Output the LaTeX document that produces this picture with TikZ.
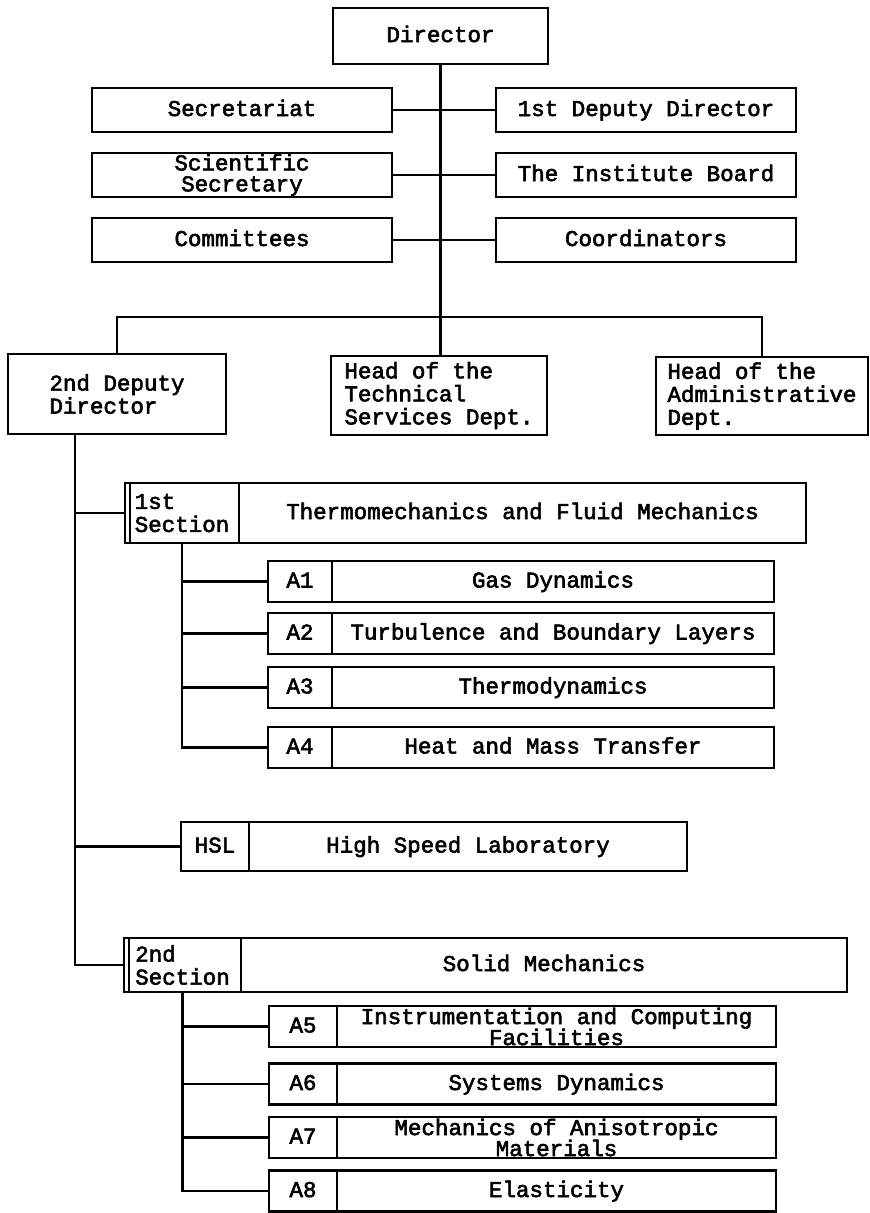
\documentclass[tikz,border=0pt]{standalone}
\usepackage{fontspec}
\newfontfamily\chartface{Liberation Mono}[FakeBold=2.5]
\usepackage{tikz}
\usetikzlibrary{positioning, calc}
\newcommand{\chartfont}{\chartface\fontsize{22.5}{23}\selectfont}
\newcommand{\tightfont}{\chartface\fontsize{22.5}{21}\selectfont}
\tikzset{
  box/.style={rectangle, draw=black, fill=white, line width=2.4pt,
    inner sep=0pt, outer sep=0pt, align=center, font=\chartfont,
    text height=14pt, text depth=2pt},
  multi/.style={text height=, text depth=},
  sidebox/.style={box, minimum width=300pt, minimum height=44pt},
  headbox/.style={box, multi, align=left, minimum height=80pt},
  codebox/.style={box, minimum height=41pt},
  unitbox/.style={box, minimum height=41pt, anchor=west},
  line/.style={line width=2.2pt, color=black}
}

\begin{document}
\begin{tikzpicture}[x=1pt, y=-1pt]
  \useasboundingbox (0,0) rectangle (870,1213);

  % Director and staff
  \node[box, minimum width=215pt, minimum height=56pt] (director) at (440.5, 36) {Director};
  \node[sidebox] (secretariat) at (242, 110) {Secretariat};
  \node[sidebox] (deputyA) at (646, 110) {1st Deputy Director};
  \node[sidebox, multi, font=\tightfont] (sciSec) at (242, 175) {Scientific\\Secretary};
  \node[sidebox] (board) at (646, 175) {The Institute Board};
  \node[sidebox] (committees) at (242, 240) {Committees};
  \node[sidebox] (coordinators) at (646, 240) {Coordinators};

  \draw[line] (secretariat.east) -- (deputyA.west);
  \draw[line] (sciSec.east) -- (board.west);
  \draw[line] (committees.east) -- (coordinators.west);

  % Heads
  \node[headbox, minimum width=218pt] (deputyB) at (117, 394) {2nd Deputy\\Director};
  \node[headbox, minimum width=216pt, minimum height=79pt] (techHead) at (439, 395.5) {Head of the\\Technical\\Services Dept.};
  \node[headbox, minimum width=212pt, minimum height=78pt] (adminHead) at (762, 396) {Head of the\\Administrative\\Dept.};

  \coordinate (bus) at (442, 317);
  \draw[line] (director.south) -- (director.south |- techHead.north);
  \draw[line] (deputyB.north) |- (bus) -| (adminHead.north);

  % 1st Section
  \node[box, multi, minimum width=114pt, minimum height=60pt, align=left] (secOneCode) at (182, 513) {1st\\Section};
  \node[box, minimum width=567pt, minimum height=60pt, anchor=west] (secOne) at (secOneCode.east) {Thermomechanics and Fluid Mechanics};
  \draw[line] ([xshift=5pt]secOneCode.north west) -- ([xshift=5pt]secOneCode.south west);

  \node[codebox, minimum width=64pt] (aOneCode) at (300, 581.5) {A1};
  \node[unitbox, minimum width=442pt] (aOne) at (aOneCode.east) {Gas Dynamics};
  \node[codebox, minimum width=64pt] (aTwoCode) at (300, 633.5) {A2};
  \node[unitbox, minimum width=442pt] (aTwo) at (aTwoCode.east) {Turbulence and Boundary Layers};
  \node[codebox, minimum width=64pt] (aThreeCode) at (300, 687.5) {A3};
  \node[unitbox, minimum width=442pt] (aThree) at (aThreeCode.east) {Thermodynamics};
  \node[codebox, minimum width=64pt] (aFourCode) at (300, 747.5) {A4};
  \node[unitbox, minimum width=442pt] (aFour) at (aFourCode.east) {Heat and Mass Transfer};

  \draw[line] (secOneCode.south) |- (aFourCode.west);
  \draw[line] (secOneCode.south |- aOneCode.west) -- (aOneCode.west);
  \draw[line] (secOneCode.south |- aTwoCode.west) -- (aTwoCode.west);
  \draw[line] (secOneCode.south |- aThreeCode.west) -- (aThreeCode.west);

  % High Speed Laboratory
  \node[codebox, minimum width=68pt, minimum height=49pt] (hslCode) at (215, 846.5) {HSL};
  \node[unitbox, minimum width=438pt, minimum height=49pt] (hsl) at (hslCode.east) {High Speed Laboratory};

  % 2nd Section
  \node[box, multi, minimum width=117pt, minimum height=54pt, align=left] (secTwoCode) at (182.5, 965) {2nd\\Section};
  \node[box, minimum width=606pt, minimum height=54pt, anchor=west] (secTwo) at (secTwoCode.east) {Solid Mechanics};
  \draw[line] ([xshift=5pt]secTwoCode.north west) -- ([xshift=5pt]secTwoCode.south west);

  \node[codebox, minimum width=68pt] (aFiveCode) at (303, 1026.5) {A5};
  \node[unitbox, multi, minimum width=439pt, font=\tightfont] (aFive) at (aFiveCode.east) {Instrumentation and Computing\\Facilities};
  \node[codebox, minimum width=68pt] (aSixCode) at (303, 1084) {A6};
  \node[unitbox, minimum width=439pt] (aSix) at (aSixCode.east) {Systems Dynamics};
  \node[codebox, minimum width=68pt] (aSevenCode) at (303, 1137.5) {A7};
  \node[unitbox, multi, minimum width=439pt, font=\tightfont] (aSeven) at (aSevenCode.east) {Mechanics of Anisotropic\\Materials};
  \node[codebox, minimum width=68pt] (aEightCode) at (303, 1191) {A8};
  \node[unitbox, minimum width=439pt] (aEight) at (aEightCode.east) {Elasticity};

  \draw[line] (secTwoCode.south) |- (aEightCode.west);
  \draw[line] (secTwoCode.south |- aFiveCode.west) -- (aFiveCode.west);
  \draw[line] (secTwoCode.south |- aSixCode.west) -- (aSixCode.west);
  \draw[line] (secTwoCode.south |- aSevenCode.west) -- (aSevenCode.west);

  % 2nd Deputy Director branches
  \coordinate (spine) at (75, 434);
  \draw[line] (spine) |- (secTwoCode.west);
  \draw[line] (spine |- secOneCode.west) -- (secOneCode.west);
  \draw[line] (spine |- hslCode.west) -- (hslCode.west);
\end{tikzpicture}
\end{document}
